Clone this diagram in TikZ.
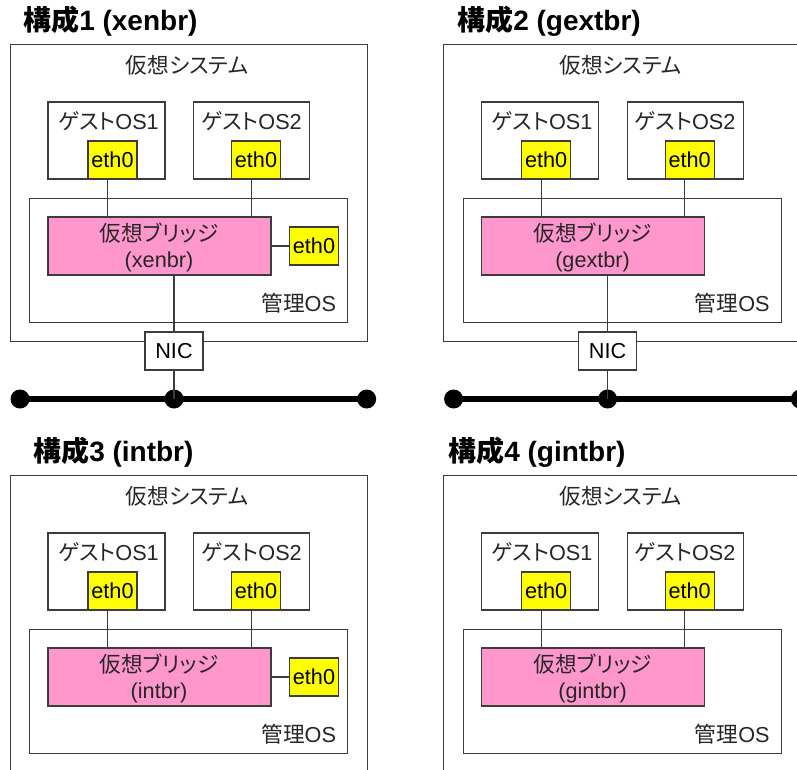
\documentclass[tikz,border=0pt]{standalone}
\usepackage{fontspec}
\setmainfont{Liberation Sans}
\newfontfamily\jpfont{Noto Sans CJK JP}[RawFeature=+palt]
\newcommand\jtext[1]{{\jpfont #1}}
\definecolor{brpink}{RGB}{255,150,204}
\definecolor{ethyellow}{RGB}{255,255,0}
\definecolor{edge}{RGB}{60,60,60}
\tikzset{
  wh/.style 2 args={minimum width=#1*0.75pt, minimum height=#2*0.75pt},
  box/.style={draw=edge, fill=white, line width=0.8pt, inner sep=0pt, outer sep=0pt, font=\fontsize{16.25}{19}\selectfont},
  ethbox/.style={box, fill=ethyellow, wh={49}{38}},
  brbox/.style={box, fill=brpink, wh={223}{58}},
  lab/.style={inner sep=0pt, outer sep=0pt, text=black!85, font=\fontsize{16.25}{19}\selectfont},
  ttl/.style={inner sep=0pt, anchor=base west, font=\fontsize{21}{25}\selectfont\bfseries},
  link/.style={draw=edge, line width=0.8pt},
  bus/.style={draw=black, line width=4.5pt},
  dot/.style={circle, fill=black, inner sep=0pt, minimum size=14.25pt},
}
\newcommand\vpanel[5]{%
\begin{scope}[shift={(#2,#3)}]
 \node[box, wh={357.4}{296.7}] (#1sys) at (189,193.3) {};
 \node[lab] (#1syst) at (187,65) {\jtext{仮想システム}};
 \node[box, wh={117}{77}] (#1g1) at (106.5,140.5) {};
 \node[lab] (#1g1t) at (108.5,121.5) {\jtext{ゲスト}OS1};
 \node[ethbox] (#1g1e) at (112.5,160) {eth0};
 \node[box, wh={116}{77}] (#1g2) at (251.5,140.5) {};
 \node[lab] (#1g2t) at (251.5,121.5) {\jtext{ゲスト}OS2};
 \node[ethbox] (#1g2e) at (256,160) {eth0};
 \node[box, wh={318}{124}] (#1mg) at (188.7,260.5) {};
 \node[lab, anchor=east] (#1mgt) at (336,303) {\jtext{管理}OS};
 \node[brbox] (#1br) at (159.5,246) {};
 \node[lab] (#1brA) at (159,233) {\jtext{仮想ブリッジ}};
 \node[lab] (#1brB) at (159,262) {(#4)};
 \coordinate (#1c1) at (107.7,0);
 \coordinate (#1c2) at (251.3,0);
 \draw[link] (#1g1e.south -| #1c1) -- (#1br.north -| #1c1);
 \draw[link] (#1g2e.south -| #1c2) -- (#1br.north -| #1c2);
 #5
\end{scope}}
\newcommand\ethright[1]{%
 \node[ethbox] (#1e3) at (314,246) {eth0};
 \draw[link] (#1br.east |- #1e3) -- (#1e3.west);}
\newcommand\nicbus[1]{%
 \node[dot] (#1d1) at (20,399) {};
 \node[dot] (#1d2) at (174,399) {};
 \node[dot] (#1d3) at (366.7,399) {};
 \draw[bus] (#1d1.center) -- (#1d3.center);
 \node[box, wh={58}{38}] (#1nic) at (174,351) {NIC};
 \draw[link] (#1br.south -| #1nic) -- (#1nic.north);
 \draw[link] (#1nic.south) -- (#1d2.center);}
\begin{document}
\begin{tikzpicture}[x=0.75pt,y=-0.75pt]
\useasboundingbox (0,0) rectangle (797,769);
\clip (0,0) rectangle (797,769);
\fill[white] (0,0) rectangle (797,769);
\vpanel{p1}{0}{0}{xenbr}{\ethright{p1}\nicbus{p1}}
\vpanel{p2}{433.6}{0}{gextbr}{\nicbus{p2}}
\vpanel{p3}{0}{431}{intbr}{\ethright{p3}}
\vpanel{p4}{433.6}{431}{gintbr}{}
\node[ttl] (t1) at (23,30) {\jtext{構成}1 (xenbr)};
\node[ttl] (t2) at (457,30) {\jtext{構成}2 (gextbr)};
\node[ttl] (t3) at (33,461) {\jtext{構成}3 (intbr)};
\node[ttl] (t4) at (448,461) {\jtext{構成}4 (gintbr)};
\end{tikzpicture}
\end{document}
